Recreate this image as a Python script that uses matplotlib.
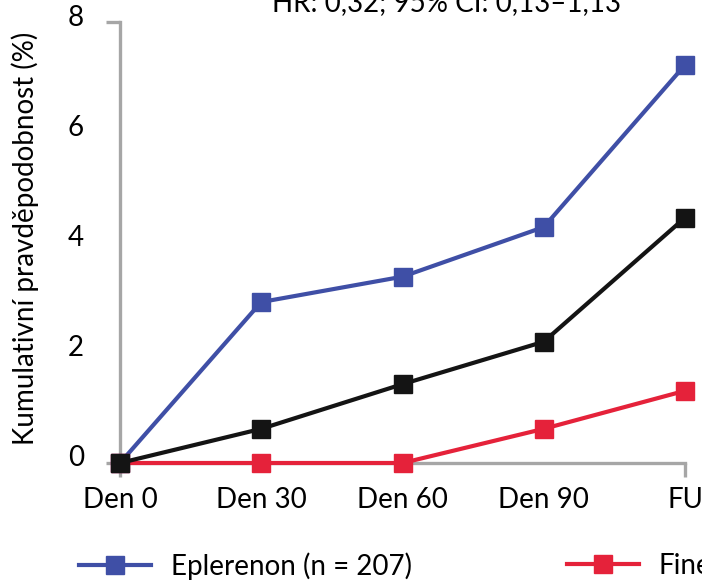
import matplotlib
matplotlib.use('Agg')
import matplotlib.pyplot as plt
from matplotlib.transforms import ScaledTranslation

# Cumulative probability (%) at each visit
visits = ['Den 0', 'Den 30', 'Den 60', 'Den 90', 'FU']
eplerenon = [0.0, 2.92, 3.38, 4.28, 7.22]
finerenon_a = [0.0, 0.62, 1.43, 2.20, 4.45]
finerenon_b = [0.0, 0.0, 0.0, 0.62, 1.31]
y_ticks = [0, 2, 4, 6, 8]

title = 'HR: 0,32; 95% CI: 0,13–1,13'
y_label = 'Kumulativní pravděpodobnost (%)'
label_epl = 'Eplerenon (n = 207)'
label_fin = 'Finerenon'

BLUE = '#3f4fa6'
RED = '#e5223a'
BLACK = '#141414'
AXIS = '#a6a6a6'

plt.rcParams['font.family'] = ['Lato', 'DejaVu Sans']
FS = 20

W, H = 702, 581
fig = plt.figure(figsize=(W / 100, H / 100), dpi=100)
ax = fig.add_axes([120 / W, 1 - 463 / H, (685 - 120) / W, (463 - 22) / H])

x = list(range(len(visits)))
style = dict(marker='s', markersize=13, lw=3, clip_on=False)
l_blue, = ax.plot(x, eplerenon, color=BLUE, zorder=3, label=label_epl, **style)
l_red, = ax.plot(x, finerenon_b, color=RED, zorder=4, label=label_fin, **style)
ax.plot(x, finerenon_a, color=BLACK, zorder=5, **style)

ax.set_xlim(0, len(visits) - 1)
ax.set_ylim(0, 8)

# bracket-style axes: grey spines, tick marks only at the ends
for side in ('top', 'right'):
    ax.spines[side].set_visible(False)
for side in ('left', 'bottom'):
    ax.spines[side].set_color(AXIS)
    ax.spines[side].set_linewidth(2.4)

ax.xaxis.remove_overlapping_locs = False
ax.yaxis.remove_overlapping_locs = False
ax.set_xticks(x)
ax.set_xticklabels(visits)
ax.set_yticks(y_ticks)
ax.set_xticks([0, len(visits) - 1], minor=True)
ax.set_yticks([0, 8], minor=True)
ax.tick_params(which='major', length=0, labelsize=FS, colors='black')
ax.tick_params(axis='x', which='major', pad=17)
ax.tick_params(axis='y', which='major', pad=26)
ax.tick_params(which='minor', length=10, width=2.4, color=AXIS)

# value labels sit a little above their gridline positions
shift = ScaledTranslation(0, 7 / 100, fig.dpi_scale_trans)
for lab in ax.get_yticklabels():
    lab.set_transform(lab.get_transform() + shift)

fig.text(25 / W, 1 - 238 / H, y_label, rotation=90, fontsize=FS,
         ha='center', va='center')
fig.text(446 / W, 1 - 11 / H, title, fontsize=FS, ha='center', va='baseline')

# legend row at the bottom, one entry per anchor
for handle, lab, x0 in ((l_blue, label_epl, 79), (l_red, label_fin, 567)):
    fig.legend([handle], [lab], loc='center left',
               bbox_to_anchor=(x0 / W, 1 - 566 / H), frameon=False,
               fontsize=FS, handlelength=2.6, handletextpad=0.7,
               borderpad=0, borderaxespad=0)

fig.savefig('out.png', dpi=100)
